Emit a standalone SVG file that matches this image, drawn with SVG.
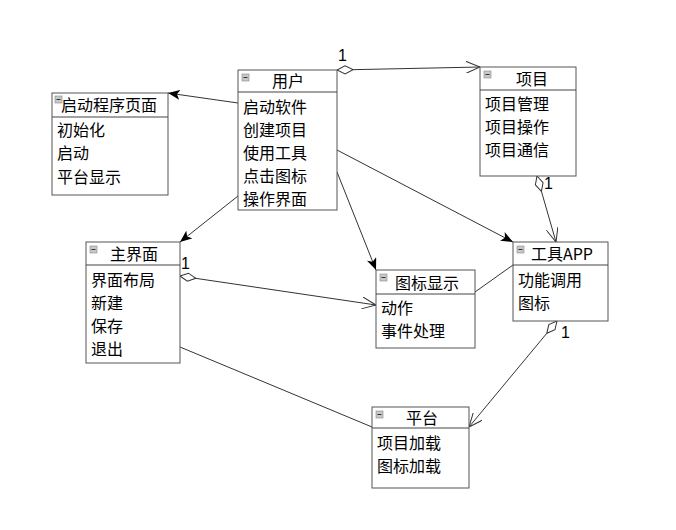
<svg xmlns="http://www.w3.org/2000/svg" width="676" height="530" viewBox="0 0 676 530">
<style>
.box{fill:#fff;stroke:#555;stroke-width:1}
.hl{stroke:#444;stroke-width:1}
.t{font-family:"Noto Sans CJK SC","Microsoft YaHei",sans-serif;font-size:16px;fill:#000}
.ti{text-anchor:middle}
.icon{fill:#c8c8c8;stroke:#888;stroke-width:0.6}
.dash{stroke:#333;stroke-width:1}
.c{fill:none;stroke:#333;stroke-width:1}
.n{font-family:"Liberation Sans",Arial,sans-serif;font-size:16px;fill:#000}
</style>
<defs>
<marker id="fa" viewBox="0 0 12 10" refX="12" refY="5" markerWidth="12" markerHeight="10" markerUnits="userSpaceOnUse" orient="auto">
<path d="M0,0 L12,5 L0,10 L3,5 z" fill="#000"/>
</marker>
<marker id="oa" viewBox="0 0 14 12" refX="14" refY="6" markerWidth="14" markerHeight="12" markerUnits="userSpaceOnUse" orient="auto">
<path d="M0,0 L14,6 L0,12" fill="none" stroke="#333" stroke-width="1"/>
</marker>
<marker id="dm" viewBox="0 0 16 10" refX="0" refY="5" markerWidth="16" markerHeight="10" markerUnits="userSpaceOnUse" orient="auto">
<path d="M0,5 L8,1 L16,5 L8,9 z" fill="#fff" stroke="#333" stroke-width="1"/>
</marker>
<g id="mini"><rect class="icon" x="0" y="0" width="7" height="7"/><line class="dash" x1="1.5" y1="3.5" x2="5.5" y2="3.5"/></g>
</defs>

<g id="connectors">
<line class="c" x1="337" y1="70" x2="480" y2="67" marker-start="url(#dm)" marker-end="url(#oa)"/>
<line class="c" x1="238" y1="103" x2="168" y2="93" marker-end="url(#fa)"/>
<line class="c" x1="238" y1="196" x2="180" y2="242" marker-end="url(#fa)"/>
<line class="c" x1="337" y1="150" x2="513" y2="242" marker-end="url(#fa)"/>
<line class="c" x1="337" y1="172" x2="376" y2="270" marker-end="url(#fa)"/>
<line class="c" x1="537" y1="176" x2="556" y2="242" marker-start="url(#dm)" marker-end="url(#oa)"/>
<line class="c" x1="180" y1="276" x2="376" y2="305" marker-start="url(#dm)" marker-end="url(#oa)"/>
<line class="c" x1="475" y1="292" x2="513" y2="265"/>
<line class="c" x1="557" y1="321" x2="469" y2="427" marker-start="url(#dm)" marker-end="url(#oa)"/>
<line class="c" x1="180" y1="347" x2="372" y2="427"/>
<text class="n" x="338" y="61">1</text>
<text class="n" x="544" y="189">1</text>
<text class="n" x="181" y="269">1</text>
<text class="n" x="561" y="338">1</text>
</g>

<g id="user">
<rect class="box" x="238" y="70" width="99" height="140"/>
<line class="hl" x1="238" y1="92" x2="337" y2="92"/>
<use href="#mini" x="242" y="74"/>
<text class="t ti" x="288" y="87">用户</text>
<text class="t" x="243" y="113">启动软件</text>
<text class="t" x="243" y="136">创建项目</text>
<text class="t" x="243" y="159">使用工具</text>
<text class="t" x="243" y="182">点击图标</text>
<text class="t" x="243" y="205">操作界面</text>
</g>

<g id="startup">
<rect class="box" x="52" y="93" width="116" height="102"/>
<line class="hl" x1="52" y1="117" x2="168" y2="117"/>
<use href="#mini" x="55" y="96"/>
<text class="t" x="61" y="111">启动程序页面</text>
<text class="t" x="57" y="136">初始化</text>
<text class="t" x="57" y="159">启动</text>
<text class="t" x="57" y="183">平台显示</text>
</g>

<g id="project">
<rect class="box" x="480" y="67" width="96" height="109"/>
<line class="hl" x1="480" y1="90" x2="576" y2="90"/>
<use href="#mini" x="484" y="71"/>
<text class="t ti" x="532" y="85">项目</text>
<text class="t" x="485" y="110">项目管理</text>
<text class="t" x="485" y="133">项目操作</text>
<text class="t" x="485" y="156">项目通信</text>
</g>

<g id="mainui">
<rect class="box" x="86" y="242" width="94" height="121"/>
<line class="hl" x1="86" y1="265" x2="180" y2="265"/>
<use href="#mini" x="90" y="246"/>
<text class="t ti" x="134" y="260">主界面</text>
<text class="t" x="91" y="286">界面布局</text>
<text class="t" x="91" y="309">新建</text>
<text class="t" x="91" y="332">保存</text>
<text class="t" x="91" y="355">退出</text>
</g>

<g id="icondisplay">
<rect class="box" x="376" y="270" width="99" height="78"/>
<line class="hl" x1="376" y1="294" x2="475" y2="294"/>
<use href="#mini" x="380" y="274"/>
<text class="t ti" x="427" y="289">图标显示</text>
<text class="t" x="381" y="314">动作</text>
<text class="t" x="381" y="337">事件处理</text>
</g>

<g id="toolapp">
<rect class="box" x="513" y="242" width="95" height="79"/>
<line class="hl" x1="513" y1="265" x2="608" y2="265"/>
<use href="#mini" x="517" y="246"/>
<text class="t ti" x="562" y="260">工具APP</text>
<text class="t" x="518" y="286">功能调用</text>
<text class="t" x="518" y="309">图标</text>
</g>

<g id="platform">
<rect class="box" x="372" y="407" width="97" height="81"/>
<line class="hl" x1="372" y1="428" x2="469" y2="428"/>
<use href="#mini" x="376" y="411"/>
<text class="t ti" x="422" y="424">平台</text>
<text class="t" x="377" y="449">项目加载</text>
<text class="t" x="377" y="472">图标加载</text>
</g>
</svg>
